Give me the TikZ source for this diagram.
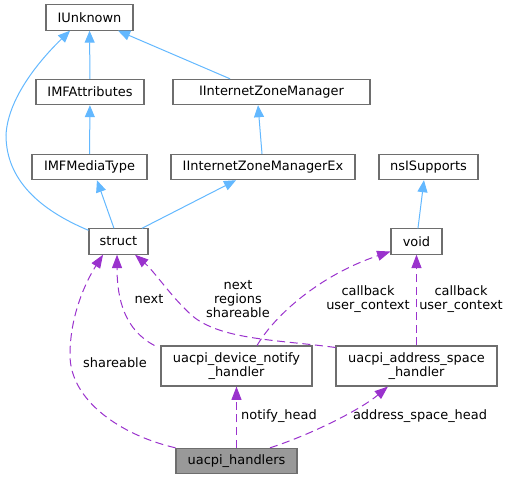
\documentclass[tikz,border=0pt]{standalone}
\usepackage{fontspec}
\setmainfont{DejaVu Sans}
\usetikzlibrary{
    arrows.meta,
    positioning
}
\definecolor{EdgeBlue}{RGB}{99,184,255}
\definecolor{EdgePurple}{RGB}{154,50,205}
\definecolor{BoxGray}{RGB}{110,110,110}
\definecolor{FillGray}{RGB}{153,153,153}
\tikzset{
  cls/.style  = {draw=BoxGray, line width=0.8pt, fill=white, inner sep=0pt,
                 minimum height=19pt, align=center,
                 font=\fontsize{9.7}{10.2}\selectfont},
  cls2/.style = {cls, minimum height=30pt},
  lbl/.style  = {align=center, inner sep=0pt,
                 font=\fontsize{9.7}{10.5}\selectfont},
  inh/.style  = {-{Triangle[length=9pt,width=7.5pt]}, EdgeBlue, line width=0.75pt},
  mem/.style  = {-{Triangle[length=10pt,width=7.5pt]}, EdgePurple, line width=0.75pt,
                 dash pattern=on 6pt off 3.5pt}
}

\begin{document}
\begin{tikzpicture}[x=0.75pt, y=-0.75pt]
\useasboundingbox (0,0) rectangle (507,480);
% classes
\node[cls, minimum width=65.25pt] (iunknown) at (89.5,17.5) {IUnknown};
\node[cls, minimum width=81pt] (imfattr) at (90,92) {IMFAttributes};
\node[cls, minimum width=147.75pt] (izm) at (271.5,92) {IInternetZoneManager};
\node[cls, minimum width=86.25pt] (imfmedia) at (89.5,167) {IMFMediaType};
\node[cls, minimum width=138pt] (izmex) at (263,167) {IInternetZoneManagerEx};
\node[cls, minimum width=74.25pt] (nssupp) at (428.5,167) {nsISupports};
\node[cls, minimum width=44.25pt] (struct) at (118.5,241.5) {struct};
\node[cls, minimum width=38.25pt] (void) at (416.5,241.5) {void};
\node[cls2, minimum width=113.25pt] (notify) at (236.5,366) {uacpi\_device\_notify\\\_handler};
\node[cls2, minimum width=120.75pt] (addrsp) at (416.5,366) {uacpi\_address\_space\\\_handler};
\node[cls, minimum width=90.75pt, fill=FillGray] (handlers) at (236.5,461) {uacpi\_handlers};
% inheritance
\draw[inh] (imfattr) -- (iunknown);
\draw[inh] ([xshift=-31.1pt]izm.north) -- ([xshift=21.4pt]iunknown.south);
\draw[inh] (imfmedia) -- (imfattr);
\draw[inh] ([xshift=-0.75pt]izmex.north) -- ([xshift=-10.1pt]izm.south);
\draw[inh] ([xshift=-3.4pt]struct.north) -- ([xshift=5.6pt]imfmedia.south);
\draw[inh] ([xshift=17.6pt]struct.north) -- ([xshift=-20.25pt]izmex.south);
\draw[inh] ([yshift=-1.5pt]struct.north west) .. controls (40,210) and (6,180) .. (6,135)
  .. controls (8,95) and (45,55) .. ([xshift=-14.6pt]iunknown.south);
\draw[inh] ([xshift=1.1pt]void.north) -- ([xshift=-3.4pt]nssupp.south);
% members
\draw[mem] (handlers.north west) .. controls (120,435) and (70,400) .. (70,355)
  .. controls (70,310) and (90,275) .. ([xshift=-11.6pt]struct.south);
\draw[mem] ([xshift=-4.5pt]notify.north west) .. controls (125,330) and (117,300)
  .. ([xshift=-1.1pt]struct.south);
\draw[mem] ([yshift=-1.5pt]addrsp.north west) .. controls (280,340) and (225,340) .. (195,318)
  .. controls (175,302) and (155,272) .. ([xshift=12.4pt]struct.south);
\draw[mem] ([xshift=15.4pt]notify.north) .. controls (275,315) and (320,275)
  .. ([yshift=-7.5pt]void.west);
\draw[mem] (addrsp) -- (void);
\draw[mem] (handlers) -- (notify);
\draw[mem] ([xshift=25.1pt]handlers.north) .. controls (310,435) and (360,410)
  .. ([xshift=-21.4pt]addrsp.south);
% edge labels
\node[lbl] (lshare) at (115,363) {shareable};
\node[lbl] (lnext) at (149,299) {next};
\node[lbl] (lnrs) at (238,299) {next\\regions\\shareable};
\node[lbl] (lcbnotify) at (368,299) {callback\\user\_context};
\node[lbl] (lcbaddr) at (461,299) {callback\\user\_context};
\node[lbl] (lnotify) at (279,416) {notify\_head};
\node[lbl] (laddr) at (420,416) {address\_space\_head};
\end{tikzpicture}
\end{document}
